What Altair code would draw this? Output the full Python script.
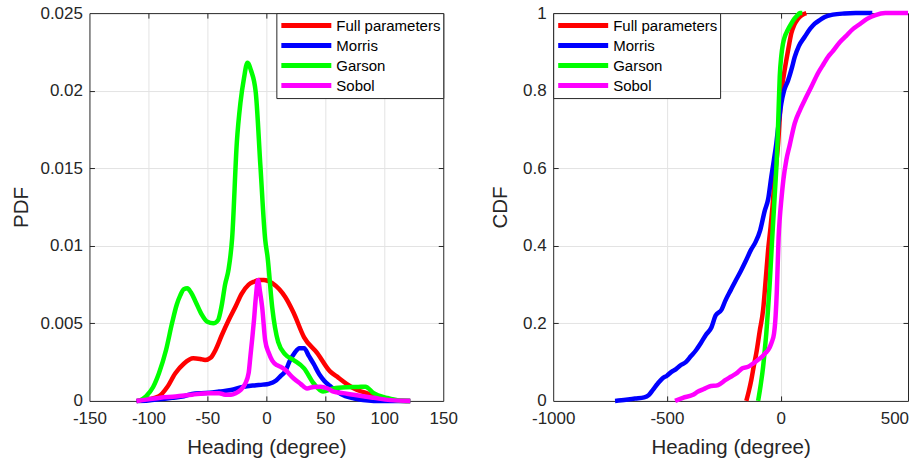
import altair as alt
import pandas as pd

series = ["Full parameters", "Morris", "Garson", "Sobol"]
colors = ["#ff0000", "#0000ff", "#00ff00", "#ff00ff"]

# ---- PDF (left panel) ----
pdf_full_x = [-110, -100, -91, -84, -77, -70, -62, -56, -52, -47, -43, -38, -32, -26, -21, -15, -10, -6, -2, 5, 11, 16, 23, 32, 43, 54, 61, 68, 77, 85, 97, 110, 122]
pdf_full_y = [0, 0.0001, 0.0003, 0.0009, 0.0018, 0.0024, 0.00275, 0.0027, 0.00264, 0.0028, 0.0033, 0.0042, 0.0052, 0.0061, 0.0069, 0.0075, 0.0077, 0.0078, 0.0078, 0.0076, 0.0072, 0.0067, 0.0057, 0.0041, 0.0031, 0.0019, 0.0015, 0.0011, 0.0007, 0.0005, 0.0002, 0.00003, 0]

pdf_morris_x = [-110, -100, -91, -80, -70, -63, -55, -48, -40, -30, -20, -10, -3, 2, 8, 12, 16, 20, 24, 28, 32, 36, 40, 45, 49, 55, 60, 67, 74, 82, 91, 105, 122]
pdf_morris_y = [0, 0.00003, 0.0001, 0.0002, 0.0003, 0.00045, 0.0005, 0.00052, 0.0006, 0.0007, 0.0009, 0.001, 0.00105, 0.0011, 0.0013, 0.0016, 0.0019, 0.0026, 0.0031, 0.0034, 0.0034, 0.0029, 0.0024, 0.0017, 0.0013, 0.0009, 0.0006, 0.0003, 0.00017, 0.00005, 0, 0, 0]

pdf_garson_x = [-108, -102, -96, -91, -85, -80, -76, -73, -70, -67, -64, -60, -55, -50, -45, -41, -38, -35, -32, -29, -25, -22, -19, -16, -13, -9, -5, -1, 1, 5, 10, 16, 23, 32, 40, 48, 57, 68, 78, 84, 91, 102, 112, 122]
pdf_garson_y = [0, 0.0003, 0.0009, 0.0018, 0.0033, 0.005, 0.0062, 0.0068, 0.0072, 0.00726, 0.007, 0.0064, 0.0056, 0.0051, 0.005, 0.0052, 0.0061, 0.0075, 0.0085, 0.0105, 0.0167, 0.0192, 0.0208, 0.0218, 0.0213, 0.0199, 0.0151, 0.0104, 0.0093, 0.006, 0.0038, 0.003, 0.00264, 0.0021, 0.00114, 0.0006, 0.0008, 0.00088, 0.0009, 0.00092, 0.0005, 0.0002, 0.00003, 0]

pdf_sobol_x = [-110, -100, -90, -77, -63, -49, -40, -35, -30, -26, -22, -18, -15, -13.5, -12, -10.5, -9, -7, -5.5, -3.5, -1, 2, 5, 9, 12, 16, 23, 29, 34.5, 40, 46, 52, 57, 65, 74, 82, 91, 105, 122]
pdf_sobol_y = [0, 0.0001, 0.0002, 0.00028, 0.0004, 0.0005, 0.0005, 0.0004, 0.0004, 0.0005, 0.0007, 0.0011, 0.0018, 0.0029, 0.004, 0.0052, 0.0066, 0.0078, 0.0071, 0.006, 0.0039, 0.0031, 0.0026, 0.0023, 0.0022, 0.002, 0.00146, 0.0011, 0.0008, 0.0009, 0.00092, 0.0008, 0.0006, 0.0005, 0.0004, 0.0003, 0.0002, 0.00005, 0]

# ---- CDF (right panel) ----
cdf_full_x = [-151, -140, -129, -118, -107, -92, -77, -66, -55, -44, -36, -27, -18, -11, -4, 3, 14, 25, 36, 47, 60, 72, 84, 100, 113]
cdf_full_y = [0, 0.025, 0.054, 0.09, 0.123, 0.18, 0.235, 0.31, 0.389, 0.45, 0.5, 0.57, 0.62, 0.664, 0.73, 0.793, 0.84, 0.879, 0.915, 0.948, 0.97, 0.982, 0.99, 0.997, 1.0]

cdf_morris_x = [-728, -680, -640, -600, -580, -560, -540, -520, -500, -480, -460, -440, -417, -395, -373, -350, -329, -304, -286, -260, -242, -220, -198, -175, -154, -130, -110, -90, -70, -55, -41, -30, -19, -8, 3, 15, 33, 50, 62, 80, 106, 130, 150, 175, 194, 230, 280, 330, 403]
cdf_morris_y = [0, 0.003, 0.006, 0.009, 0.015, 0.03, 0.045, 0.058, 0.065, 0.075, 0.082, 0.092, 0.1, 0.115, 0.13, 0.15, 0.17, 0.19, 0.22, 0.235, 0.26, 0.285, 0.31, 0.335, 0.36, 0.39, 0.41, 0.44, 0.49, 0.52, 0.578, 0.62, 0.664, 0.72, 0.767, 0.8, 0.827, 0.86, 0.887, 0.915, 0.939, 0.96, 0.973, 0.983, 0.99, 0.996, 0.999, 1.0, 1.0]

cdf_garson_x = [-99, -88, -77, -70, -63, -55, -48, -38, -29, -23, -19, -14, -9, -4, 3, 10, 18, 30, 47, 60, 72, 84, 95]
cdf_garson_y = [0, 0.04, 0.088, 0.13, 0.174, 0.24, 0.303, 0.41, 0.5, 0.56, 0.6, 0.664, 0.75, 0.836, 0.89, 0.92, 0.939, 0.955, 0.973, 0.985, 0.993, 1.0, 1.0]

cdf_sobol_x = [-464, -430, -388, -363, -340, -315, -275, -242, -217, -190, -168, -143, -120, -99, -80, -66, -55, -40, -29, -22, -17, -13, -9, -4, 3, 12, 25, 40, 62, 85, 106, 135, 164, 190, 208, 227, 260, 286, 320, 344, 380, 417, 460, 500, 560]
cdf_sobol_y = [0, 0.008, 0.015, 0.024, 0.03, 0.037, 0.041, 0.054, 0.063, 0.073, 0.084, 0.088, 0.097, 0.106, 0.115, 0.124, 0.131, 0.15, 0.174, 0.22, 0.28, 0.35, 0.42, 0.47, 0.518, 0.57, 0.621, 0.66, 0.716, 0.75, 0.776, 0.81, 0.845, 0.87, 0.887, 0.9, 0.925, 0.94, 0.96, 0.97, 0.985, 0.995, 1.0, 1.0, 1.0]

pdf_x_ticks = [-150, -100, -50, 0, 50, 100, 150]
pdf_y_ticks = [0, 0.005, 0.01, 0.015, 0.02, 0.025]
cdf_x_ticks = [-1000, -500, 0, 500]
cdf_y_ticks = [0, 0.2, 0.4, 0.6, 0.8, 1]


def frame(xs_list, ys_list):
    rows = []
    for k, (name, xs, ys) in enumerate(zip(series, xs_list, ys_list)):
        for i, (x, y) in enumerate(zip(xs, ys)):
            rows.append({"series": name, "k": k, "i": i, "x": x, "y": y})
    return pd.DataFrame(rows)


pdf_df = frame([pdf_full_x, pdf_morris_x, pdf_garson_x, pdf_sobol_x],
               [pdf_full_y, pdf_morris_y, pdf_garson_y, pdf_sobol_y])
cdf_df = frame([cdf_full_x, cdf_morris_x, cdf_garson_x, cdf_sobol_x],
               [cdf_full_y, cdf_morris_y, cdf_garson_y, cdf_sobol_y])

FONT = "Liberation Sans"
TXT = "#262626"
GRID = "#e3e3e3"


def main_axis(title, ticks, label_pad, title_pad):
    # labels, titles and the frame's bottom/left edge
    return alt.Axis(
        title=title, values=ticks, labelExpr="'' + datum.value",
        grid=False, domain=True, domainColor=TXT, domainWidth=1,
        ticks=False,
        labelPadding=label_pad, titlePadding=title_pad,
        labelFlush=False, labelOverlap=False,
        labelFont=FONT, labelFontSize=17, labelColor=TXT,
        titleFont=FONT, titleFontSize=20.5, titleFontWeight="normal", titleColor=TXT,
    )


def frame_axis(orient, ticks):
    # frame's top/right edge plus the interior grid lines
    return alt.Axis(
        orient=orient, title=None, values=ticks[1:-1], labels=False,
        grid=True, gridColor=GRID, gridWidth=1,
        domain=True, domainColor=TXT, domainWidth=1, ticks=False,
    )


def tick_axis(orient, ticks):
    # inward-pointing tick marks
    return alt.Axis(
        orient=orient, title=None, values=ticks[1:-1], labels=False,
        grid=False, domain=False,
        ticks=True, tickSize=5, tickColor=TXT, tickWidth=1, offset=-5,
    )


def legend(lx):
    return alt.Legend(
        title=None, orient="none", legendX=lx, legendY=0,
        symbolType="stroke", symbolSize=2500, symbolStrokeWidth=5,
        clipHeight=20, rowPadding=0, padding=2.5, labelOffset=2.5, symbolOffset=0,
        labelFont=FONT, labelFontSize=15, labelColor="#000000", labelLimit=400,
        strokeColor=TXT, fillColor="#ffffff",
    )


def panel(df, xdom, ydom, xticks, yticks, ytitle, w, lx, ytitle_pad):
    xs = alt.Scale(domain=xdom, nice=False, zero=False)
    ys = alt.Scale(domain=ydom, nice=False, zero=False)
    base = alt.Chart(df)

    def ghost(xa, ya):
        return base.mark_point(opacity=0).encode(
            x=alt.X("x:Q", scale=xs, axis=xa),
            y=alt.Y("y:Q", scale=ys, axis=ya),
        )

    frame_layer = ghost(frame_axis("top", xticks), frame_axis("right", yticks))
    ticks_tr = ghost(tick_axis("top", xticks), tick_axis("right", yticks))
    ticks_bl = ghost(tick_axis("bottom", xticks), tick_axis("left", yticks))
    lines = base.mark_line(strokeWidth=4.5, interpolate="monotone").encode(
        x=alt.X("x:Q", scale=xs, axis=main_axis("Heading (degree)", xticks, 10, 11)),
        y=alt.Y("y:Q", scale=ys, axis=main_axis(ytitle, yticks, 7, ytitle_pad)),
        color=alt.Color("series:N", scale=alt.Scale(domain=series, range=colors),
                        legend=legend(lx)),
        order=alt.Order("i:Q"),
    )
    return alt.layer(frame_layer, ticks_tr, ticks_bl, lines).resolve_axis(
        x="independent", y="independent"
    ).properties(width=w, height=388)


left = panel(pdf_df, [-150, 150], [0, 0.025], pdf_x_ticks, pdf_y_ticks, "PDF", 354, 187, 8)
right = panel(cdf_df, [-1000, 560], [0, 1], cdf_x_ticks, cdf_y_ticks, "CDF", 355, 0, 12)

chart = alt.hconcat(left, right, spacing=32).resolve_scale(
    color="independent"
).resolve_legend(color="independent").properties(
    padding={"left": 11.5, "top": 4, "right": 0, "bottom": 0},
    background="#ffffff",
).configure_view(stroke=None)

chart.save("out.html", embed_options={"renderer": "svg", "actions": False})
